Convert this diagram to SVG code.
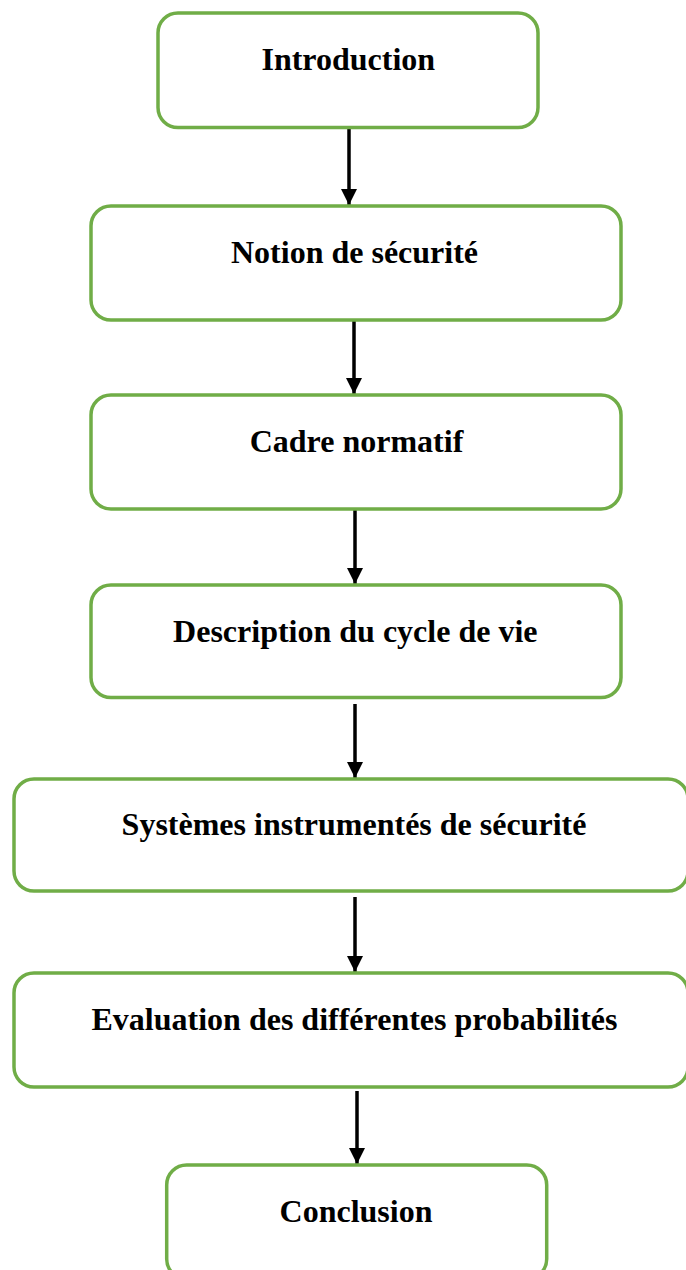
<svg xmlns="http://www.w3.org/2000/svg" width="686" height="1270" viewBox="0 0 686 1270">
<style>
.box{fill:#ffffff;stroke:#70AD47;stroke-width:3.5}
.lbl{font-family:"Liberation Serif","Times New Roman",serif;font-weight:bold;font-size:32px;fill:#000;text-anchor:middle}
.arr{stroke:#000;stroke-width:3.5;fill:none;marker-end:url(#ah)}
</style>
<defs>
<marker id="ah" markerUnits="userSpaceOnUse" markerWidth="16" markerHeight="16" refX="16" refY="8" orient="auto">
<path d="M0,0 L16,8 L0,16 z" fill="#000"/>
</marker>
</defs>
<rect width="686" height="1270" fill="#fff"/>
<g id="connectors">
<line class="arr" x1="349" y1="128" x2="349" y2="205"/>
<line class="arr" x1="354" y1="321" x2="354" y2="394"/>
<line class="arr" x1="355" y1="510" x2="355" y2="584"/>
<line class="arr" x1="355" y1="704" x2="355" y2="778"/>
<line class="arr" x1="355" y1="897" x2="355" y2="972"/>
<line class="arr" x1="357" y1="1091" x2="357" y2="1164"/>
</g>
<g id="n1"><rect class="box" x="158" y="13" width="380" height="114.5" rx="20"/><text class="lbl" x="348.3" y="70">Introduction</text></g>
<g id="n2"><rect class="box" x="91" y="206" width="530" height="114" rx="20"/><text class="lbl" x="354.5" y="263">Notion de sécurité</text></g>
<g id="n3"><rect class="box" x="91" y="395" width="530" height="114" rx="20"/><text class="lbl" x="356.5" y="452">Cadre normatif</text></g>
<g id="n4"><rect class="box" x="91" y="585" width="530" height="112.5" rx="20"/><text class="lbl" x="355.3" y="642">Description du cycle de vie</text></g>
<g id="n5"><rect class="box" x="14" y="779" width="674" height="112" rx="20"/><text class="lbl" x="354" y="835">Systèmes instrumentés de sécurité</text></g>
<g id="n6"><rect class="box" x="14" y="973" width="674" height="114" rx="20"/><text class="lbl" x="354.5" y="1030">Evaluation des différentes probabilités</text></g>
<g id="n7"><rect class="box" x="166.7" y="1165" width="380" height="114" rx="20"/><text class="lbl" x="356" y="1222">Conclusion</text></g>
</svg>
